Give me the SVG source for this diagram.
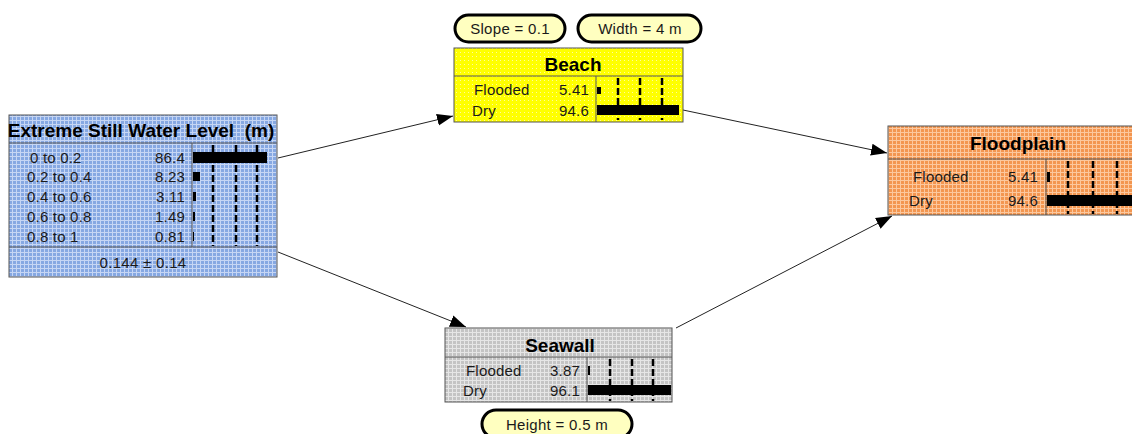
<svg xmlns="http://www.w3.org/2000/svg" width="1132" height="434" viewBox="0 0 1132 434">
<style>
.title{font-family:"Liberation Sans",Arial,sans-serif;font-weight:bold;font-size:19px;fill:#000;text-anchor:middle}
.row{font-family:"Liberation Sans",Arial,sans-serif;font-size:15px;fill:#1a1a1a;letter-spacing:0.2px}
.val{font-family:"Liberation Sans",Arial,sans-serif;font-size:15px;fill:#1a1a1a;text-anchor:end;letter-spacing:0.2px}
.lbl{font-family:"Liberation Sans",Arial,sans-serif;font-size:15px;fill:#1a1a1a;text-anchor:middle;letter-spacing:0.3px}
.box{stroke:#555;stroke-width:1}
.sep{stroke:#555;stroke-width:1;fill:none}
.dash{stroke:#000;stroke-width:2.5;stroke-dasharray:7 3;fill:none}
.bar{fill:#000}
.oval{fill:#ffffc0;stroke:#000;stroke-width:3}
.conn{stroke:#222;stroke-width:1;fill:none;marker-end:url(#ah)}
</style>
<defs>
<marker id="ah" markerUnits="userSpaceOnUse" markerWidth="18" markerHeight="14" refX="16" refY="7" orient="auto">
<path d="M0,1 L16,7 L0,13 Z" fill="#000"/>
</marker>
<pattern id="pBlue" width="4" height="4" patternUnits="userSpaceOnUse">
<rect width="4" height="4" fill="#86a8e2"/>
<rect width="1" height="4" fill="#c6d6f4"/>
<rect width="4" height="1" fill="#c6d6f4"/>
</pattern>
<pattern id="pOrange" width="4" height="4" patternUnits="userSpaceOnUse">
<rect width="4" height="4" fill="#f39650"/>
<rect width="1" height="4" fill="#fcc89e"/>
<rect width="4" height="1" fill="#fcc89e"/>
</pattern>
<pattern id="pGrey" width="4" height="4" patternUnits="userSpaceOnUse">
<rect width="4" height="4" fill="#c4c4c4"/>
<rect width="1" height="4" fill="#e6e6e6"/>
<rect width="4" height="1" fill="#e6e6e6"/>
</pattern>
<pattern id="pYellow" width="4" height="4" patternUnits="userSpaceOnUse">
<rect width="4" height="4" fill="#ffff00"/>
<rect width="1" height="1" fill="#fffaa0"/>
</pattern>
</defs>

<g id="connectors">
<line class="conn" x1="278" y1="158" x2="453" y2="116"/>
<line class="conn" x1="278" y1="252" x2="466" y2="327"/>
<line class="conn" x1="683" y1="110" x2="887" y2="153"/>
<line class="conn" x1="676" y1="328" x2="892" y2="216"/>
</g>

<g id="eswl">
<rect class="box" x="9" y="115" width="268" height="162" fill="url(#pBlue)"/>
<text class="title" x="141" y="137" xml:space="preserve">Extreme Still Water Level  (m)</text>
<line class="sep" x1="9" y1="143" x2="277" y2="143"/>
<line class="sep" x1="9" y1="247" x2="277" y2="247"/>
<line class="sep" x1="192" y1="143" x2="192" y2="247"/>
<text class="row" x="30" y="163">0 to 0.2</text>
<text class="row" x="27" y="182">0.2 to 0.4</text>
<text class="row" x="27" y="202">0.4 to 0.6</text>
<text class="row" x="27" y="222">0.6 to 0.8</text>
<text class="row" x="27" y="242">0.8 to 1</text>
<text class="val" x="185" y="163">86.4</text>
<text class="val" x="185" y="182">8.23</text>
<text class="val" x="185" y="202">3.11</text>
<text class="val" x="185" y="222">1.49</text>
<text class="val" x="185" y="242">0.81</text>
<rect class="bar" x="193" y="152" width="74" height="11"/>
<rect class="bar" x="193" y="172" width="7" height="9"/>
<rect class="bar" x="193" y="192" width="3" height="9"/>
<rect class="bar" x="193" y="212" width="2" height="9"/>
<rect class="bar" x="193" y="232" width="1" height="9"/>
<line class="dash" x1="213" y1="145" x2="213" y2="246"/>
<line class="dash" x1="236" y1="145" x2="236" y2="246"/>
<line class="dash" x1="257" y1="145" x2="257" y2="246"/>
<text class="lbl" x="143" y="268">0.144 ± 0.14</text>
</g>

<g id="slope">
<rect class="oval" x="455" y="15" width="110" height="27" rx="13.5"/>
<text class="lbl" x="510" y="34">Slope = 0.1</text>
</g>
<g id="width">
<rect class="oval" x="578" y="15" width="123" height="27" rx="13.5"/>
<text class="lbl" x="640" y="34">Width = 4 m</text>
</g>

<g id="beach">
<rect class="box" x="454" y="48" width="229" height="74" fill="url(#pYellow)"/>
<text class="title" x="573" y="71">Beach</text>
<line class="sep" x1="454" y1="76" x2="683" y2="76"/>
<line class="sep" x1="596" y1="76" x2="596" y2="122"/>
<text class="row" x="474" y="95">Flooded</text>
<text class="row" x="472" y="116">Dry</text>
<text class="val" x="589" y="95">5.41</text>
<text class="val" x="589" y="116">94.6</text>
<rect class="bar" x="597" y="87" width="4" height="7"/>
<rect class="bar" x="597" y="105" width="82" height="10"/>
<line class="dash" x1="618" y1="78" x2="618" y2="120"/>
<line class="dash" x1="640" y1="78" x2="640" y2="120"/>
<line class="dash" x1="662" y1="78" x2="662" y2="120"/>
</g>

<g id="floodplain">
<rect class="box" x="888" y="126" width="262" height="89" fill="url(#pOrange)"/>
<text class="title" x="1018" y="150">Floodplain</text>
<line class="sep" x1="888" y1="159" x2="1150" y2="159"/>
<line class="sep" x1="1046" y1="159" x2="1046" y2="215"/>
<text class="row" x="913" y="182">Flooded</text>
<text class="row" x="909" y="206">Dry</text>
<text class="val" x="1038" y="182">5.41</text>
<text class="val" x="1038" y="206">94.6</text>
<rect class="bar" x="1047" y="172" width="3" height="10"/>
<rect class="bar" x="1047" y="195" width="90" height="11"/>
<line class="dash" x1="1068" y1="161" x2="1068" y2="214"/>
<line class="dash" x1="1093" y1="161" x2="1093" y2="214"/>
<line class="dash" x1="1117" y1="161" x2="1117" y2="214"/>
</g>

<g id="seawall">
<rect class="box" x="445" y="328" width="227" height="74" fill="url(#pGrey)"/>
<text class="title" x="560" y="352">Seawall</text>
<line class="sep" x1="445" y1="357" x2="672" y2="357"/>
<line class="sep" x1="587" y1="357" x2="587" y2="402"/>
<text class="row" x="466" y="376">Flooded</text>
<text class="row" x="463" y="396">Dry</text>
<text class="val" x="580" y="376">3.87</text>
<text class="val" x="580" y="396">96.1</text>
<rect class="bar" x="588" y="366" width="2" height="9"/>
<rect class="bar" x="588" y="385" width="83" height="10"/>
<line class="dash" x1="610" y1="359" x2="610" y2="401"/>
<line class="dash" x1="632" y1="359" x2="632" y2="401"/>
<line class="dash" x1="653" y1="359" x2="653" y2="401"/>
</g>

<g id="height">
<rect class="oval" x="482" y="410" width="150" height="28" rx="14"/>
<text class="lbl" x="557" y="430">Height = 0.5 m</text>
</g>
</svg>
